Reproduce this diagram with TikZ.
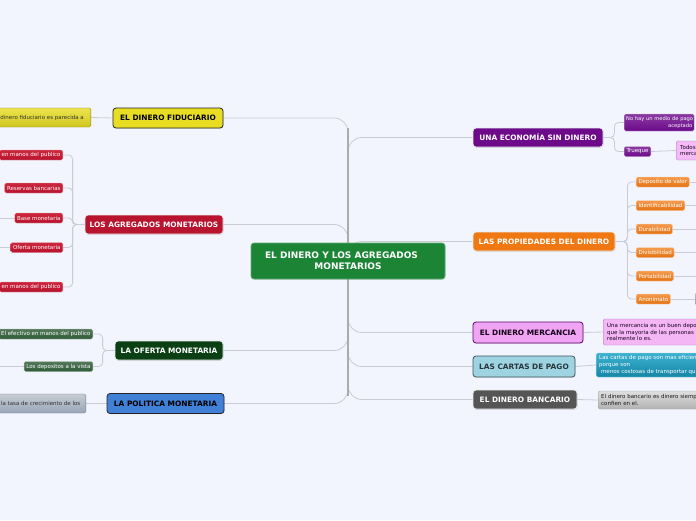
\documentclass[tikz,border=0pt]{standalone}
\usepackage{fontspec}
\setmainfont{DejaVu Sans}
\usetikzlibrary{shadows}
\definecolor{bgc}{HTML}{F2F5FD}
\definecolor{connc}{HTML}{C9CCD6}
\definecolor{trunkc}{HTML}{ABABAB}
\definecolor{cgreen}{HTML}{1B8535}
\definecolor{cyellow}{HTML}{E8DD22}
\definecolor{cred}{HTML}{B8132F}
\definecolor{cdgreen}{HTML}{0B3F14}
\definecolor{cblue}{HTML}{4080D6}
\definecolor{cpurple}{HTML}{6C0A8A}
\definecolor{corange}{HTML}{F07812}
\definecolor{cpink}{HTML}{F2A4F4}
\definecolor{clblue}{HTML}{9ED4E2}
\definecolor{cdgray}{HTML}{555555}
\definecolor{tealtop}{HTML}{3DB2D0}
\definecolor{tealbot}{HTML}{1586A6}
\pgfdeclarelayer{bglayer}
\pgfdeclarelayer{linelayer}
\pgfsetlayers{bglayer,linelayer,main}
\tikzset{
 topic/.style={rounded corners=3pt, inner sep=0pt, line width=0.8pt, draw=white!75!gray,
   font=\fontsize{7.4}{8.5}\selectfont\bfseries, text=white,
   drop shadow={opacity=0.2,shadow xshift=0.6pt,shadow yshift=-0.8pt}},
 leaf/.style={rounded corners=1.5pt, inner xsep=2.3pt, inner ysep=0pt, minimum height=10pt,
   line width=0.4pt, font=\fontsize{5.5}{6.6}\selectfont, text=white},
 redleaf/.style={leaf, top color=red!20!cred!90!white, bottom color=cred, draw=cred!40!white},
 greenleaf/.style={leaf, top color=cdgreen!70!white, bottom color=cdgreen!85!white, draw=cdgreen!35!white},
 purpleleaf/.style={leaf, top color=cpurple!80!white, bottom color=cpurple, draw=cpurple!35!white},
 orangeleaf/.style={leaf, top color=corange!75!white, bottom color=corange!95!black, draw=corange!35!white},
 cline/.style={draw=connc, line width=0.8pt},
 trunk/.style={draw=trunkc, line width=2pt},
}
\begin{document}
\begin{tikzpicture}[x=1pt,y=-1pt]
\useasboundingbox (0,0) rectangle (696,520);
\begin{pgfonlayer}{bglayer}
\fill[bgc] (0,0) rectangle (696,520);
\end{pgfonlayer}
\begin{scope}
\clip (0,0) rectangle (696,520);
% central
\node[topic, fill=cgreen, draw=cgreen!70!white, minimum width=194pt, minimum height=36pt,
  font=\fontsize{9}{11}\selectfont\bfseries, align=center] (ctr) at (348,261)
  {EL DINERO Y LOS AGREGADOS\hspace*{13pt}\\MONETARIOS};
\coordinate (ttop) at (348,128);
\coordinate (tbot) at (348,396);
% left topics
\node[topic, fill=cyellow, draw=black!85, text=black, minimum width=110pt, minimum height=20pt] (fid) at (168,118) {EL DINERO FIDUCIARIO};
\node[topic, fill=cred, draw=white!85!gray, minimum width=138pt, minimum height=19pt] (agr) at (154,224.5) {LOS AGREGADOS MONETARIOS};
\node[topic, fill=cdgreen, draw=white!85!gray, minimum width=108pt, minimum height=19pt] (ofe) at (169,350.5) {LA OFERTA MONETARIA};
\node[topic, fill=cblue, draw=black!85, text=black, minimum width=117pt, minimum height=20pt] (pol) at (165.5,403.5) {LA POLITICA MONETARIA};
% right topics
\node[topic, fill=cpurple, draw=white!85!gray, minimum width=130pt, minimum height=19pt] (eco) at (538,137.5) {UNA ECONOMÍA SIN DINERO};
\node[topic, fill=corange, draw=white!85!gray, minimum width=142pt, minimum height=19pt] (pro) at (544,241.5) {LAS PROPIEDADES DEL DINERO};
\node[topic, fill=cpink, draw=cpurple!80!black, text=black!85!cpurple, minimum width=110pt, minimum height=21pt] (mer) at (528,332.5) {EL DINERO MERCANCIA};
\node[topic, fill=clblue, draw=black!60!clblue, text=black!75!clblue, minimum width=102pt, minimum height=21pt] (car) at (524,366.5) {LAS CARTAS DE PAGO};
\node[topic, fill=cdgray, draw=white!85!gray, minimum width=104pt, minimum height=19pt] (ban) at (525,399.5) {EL DINERO BANCARIO};
% left leaves
\node[leaf, anchor=east, minimum height=19pt, inner xsep=7pt, top color=cyellow!80!white, bottom color=cyellow!90!black, draw=cyellow!60!black, text=black!80] (fl) at (91,117.5) {dinero fiduciario es parecida a};
\node[redleaf, anchor=east] (a1) at (63,155) {en manos del publico};
\node[redleaf, anchor=east] (a2) at (63,188) {Reservas bancarias};
\node[redleaf, anchor=east] (a3) at (63,218) {Base monetaria};
\node[redleaf, anchor=east] (a4) at (63,247.5) {Oferta monetaria};
\node[redleaf, anchor=east] (a5) at (63,287) {en manos del publico};
\node[greenleaf, anchor=east] (o1) at (93,334) {El efectivo en manos del publico};
\node[greenleaf, anchor=east] (o2) at (93,366.5) {Los depositos a la vista};
\node[leaf, anchor=east, minimum height=19pt, inner xsep=5.5pt, top color=cblue!20!gray!40!white, bottom color=cblue!30!gray!70!white, draw=gray!80!cblue, text=black!80] (pl) at (86,403.5) {la tasa de crecimiento de los};
% right leaves
\node[purpleleaf, anchor=west, minimum height=17pt, inner xsep=2pt, text width=66pt, align=right, font=\fontsize{5.15}{6.2}\selectfont] (e1) at (624,122.5) {\mbox{No hay un medio de pago}\\aceptado};
\node[purpleleaf, anchor=west] (e2) at (624,151.5) {Trueque};
\node[leaf, anchor=west, minimum height=19pt, inner xsep=4pt, text width=40pt, align=left, fill=cpink!75!white, draw=cpurple!55!white, text=black!75!cpurple, font=\fontsize{5.5}{6.3}\selectfont] (todos) at (676,150.5) {Todos\\merca};
\node[orangeleaf, anchor=west] (p1) at (636,182) {Deposito de valor};
\node[orangeleaf, anchor=west] (p2) at (636,205.5) {Identificabilidad};
\node[orangeleaf, anchor=west] (p3) at (636,229) {Durabilidad};
\node[orangeleaf, anchor=west] (p4) at (636,252.5) {Divisibilidad};
\node[orangeleaf, anchor=west] (p5) at (636,276) {Portabilidad};
\node[orangeleaf, anchor=west] (p6) at (636,299) {Anonimato};
\node[leaf, anchor=west, minimum width=12pt, minimum height=12pt, top color=gray!40, bottom color=gray!70, draw=gray!80] (px) at (695,299) {};
\node[leaf, anchor=west, minimum height=26pt, inner xsep=4pt, text width=100pt, align=left, fill=cpink!80!white, draw=cpurple!55!white, text=black!80!cpurple, font=\fontsize{5.5}{6.6}\selectfont] (merl) at (603,332) {Una mercancia es un buen depo\\que la mayoria de las personas\\realmente lo es.};
\node[leaf, anchor=west, minimum height=24pt, inner xsep=3pt, text width=110pt, align=left, top color=tealtop, bottom color=tealbot, draw=tealtop!50!white, font=\fontsize{5.5}{6.6}\selectfont] (carl) at (596,365) {Las cartas de pago son mas eficien\\porque son\\\ menos costosas de transportar qu};
\node[leaf, anchor=west, minimum height=18pt, inner xsep=3pt, text width=110pt, align=left, top color=gray!25, bottom color=gray!60, draw=gray!75, text=black!90, font=\fontsize{5.5}{6.6}\selectfont] (banl) at (598,400) {El dinero bancario es dinero siemp\\confien en el.};
\coordinate (a3x) at (-6,218);
\coordinate (a4x) at (-6,247.5);
\coordinate (o2x) at (-6,366.5);
\end{scope}
\begin{pgfonlayer}{linelayer}
\begin{scope}
\clip (0,0) rectangle (696,520);
\foreach \n in {fid,agr,ofe,pol} \draw[cline, rounded corners=14pt] (ctr.center) |- (\n.east);
\foreach \n in {eco,pro,mer,car,ban} \draw[cline, rounded corners=14pt] (ctr.center) |- (\n.west);
\draw[trunk] (ttop) -- (tbot);
\foreach \n in {a1,a2,a3,a4,a5} \draw[cline, rounded corners=4pt] (agr.west) -- ++(-12,0) |- (\n.east);
\foreach \n in {o1,o2} \draw[cline, rounded corners=4pt] (ofe.west) -- ++(-12,0) |- (\n.east);
\draw[cline] (fid.west) -- (fl.east);
\draw[cline] (pol.west) -- (pl.east);
\draw[cline] (a3.west) -- (a3x);
\draw[cline] (a4.west) -- (a4x);
\draw[cline] (o2.west) -- (o2x);
\foreach \n in {e1,e2} \draw[cline, rounded corners=4pt] (eco.east) -- ++(11,0) |- (\n.west);
\draw[cline] (e2.east) -- (todos.west);
\foreach \n in {p1,p2,p3,p4,p5,p6} \draw[cline, rounded corners=4pt] (pro.east) -- ++(12,0) |- (\n.west);
\foreach \n in {p1,p2,p3,p4,p5} \draw[cline] (\n.east) -- ++(80,0);
\draw[cline] (p6.east) -- (px.west);
\draw[cline] (mer.east) -- (merl.west);
\draw[cline] (car.east) -- (carl.west);
\draw[cline] (ban.east) -- (banl.west);
\end{scope}
\end{pgfonlayer}
\end{tikzpicture}
\end{document}
